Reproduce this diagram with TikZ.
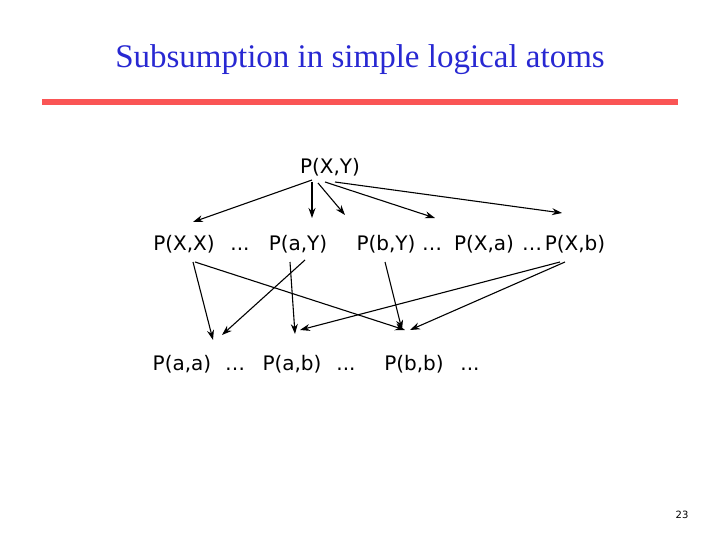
\documentclass[tikz,border=0pt]{standalone}
\usepackage{fontspec}
\setmainfont{DejaVu Sans}
\newfontfamily\titlefont{Liberation Serif}
\usetikzlibrary{arrows.meta}
\definecolor{titleblue}{RGB}{40,40,210}
\definecolor{barred}{RGB}{250,85,85}
\begin{document}
\begin{tikzpicture}[x=1pt,y=-1pt,
  lab/.style={font=\fontsize{20}{22}\selectfont,inner sep=0pt,anchor=base},
  arr/.style={-{Stealth[length=10pt,width=7pt]},line width=1.1pt}]
\useasboundingbox (0,0) rectangle (720,540);
\node[font=\titlefont\fontsize{33}{36}\selectfont,text=titleblue] (title) at (360,60) {Subsumption in simple logical atoms};
\draw[barred,line width=6pt] (42,102) coordinate (b1) -- (678,102) coordinate (b2);
\node[lab] (xy) at (330,174) {P(X,Y)};
\node[lab] (xx) at (184,250) {P(X,X)};
\node[lab] (d1) at (240,250) {...};
\node[lab] (ay) at (298,250) {P(a,Y)};
\node[lab] (by) at (386,250) {P(b,Y)};
\node[lab] (d2) at (432,250) {…};
\node[lab] (xa) at (484,250) {P(X,a)};
\node[lab] (d3) at (532,250) {…};
\node[lab] (xb) at (575,250) {P(X,b)};
\node[lab] (aa) at (182,370) {P(a,a)};
\node[lab] (d4) at (235,370) {…};
\node[lab] (ab) at (292,370) {P(a,b)};
\node[lab] (d5) at (346,370) {...};
\node[lab] (bb) at (414,370) {P(b,b)};
\node[lab] (d6) at (470,370) {...};
\node[font=\fontsize{10}{11}\selectfont] (pg) at (682,515) {23};
% arrows
\draw[arr] (312,180) -- (193,222);
\draw[arr] (312,182) -- (312,218);
\draw[arr] (318,183) -- (345,215);
\draw[arr] (325,182) -- (435,218);
\draw[arr] (335,182) -- (562,213);
\draw[arr] (193,262) -- (213,340);
\draw[arr] (195,262) -- (405,330);
\draw[arr] (305,260) -- (222,335);
\draw[arr] (290,262) -- (295,334);
\draw[arr] (385,262) -- (402,330);
\draw[arr] (560,262) -- (300,330);
\draw[arr] (565,262) -- (410,330);
\end{tikzpicture}
\end{document}
